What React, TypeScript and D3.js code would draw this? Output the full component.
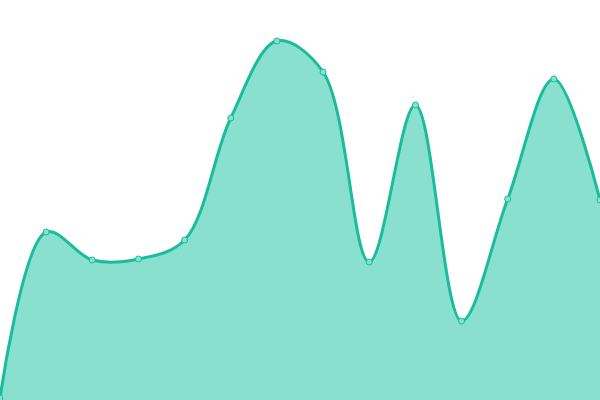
import React, { useEffect, useRef } from "react";
import * as d3 from "d3";

const labels = ["1", "2", "3", "4", "5", "6", "7", "8", "9", "10", "11", "12", "13", "14"];
const values = [2, 168, 140, 141, 160, 282, 359, 328, 138, 295, 79, 201, 321, 200];

const App: React.FC = () => {
  const svgRef = useRef<SVGSVGElement | null>(null);

  useEffect(() => {
    const width = 600;
    const height = 400;

    const x = d3
      .scalePoint()
      .domain(labels)
      .range([0, width]);

    const y = d3.scaleLinear().domain([0, 400]).range([height, 0]);

    const svg = d3.select(svgRef.current);
    svg.selectAll("*").remove();

    const area = d3
      .area<number>()
      .x((_, i) => x(labels[i]) as number)
      .y0(height)
      .y1((d) => y(d))
      .curve(d3.curveCatmullRom);

    const line = d3
      .line<number>()
      .x((_, i) => x(labels[i]) as number)
      .y((d) => y(d))
      .curve(d3.curveCatmullRom);

    svg.append("path").datum(values).attr("d", area).attr("fill", "#89e0ce");

    svg
      .append("path")
      .datum(values)
      .attr("d", line)
      .attr("fill", "none")
      .attr("stroke", "#1abc9c")
      .attr("stroke-width", 3);

    svg
      .selectAll("circle")
      .data(values)
      .enter()
      .append("circle")
      .attr("cx", (_, i) => x(labels[i]) as number)
      .attr("cy", (d) => y(d))
      .attr("r", 3)
      .attr("fill", "#89e0ce")
      .attr("stroke", "#1abc9c")
      .attr("stroke-width", 1);
  }, []);

  return (
    <div style={{ position: "absolute", left: 0, top: 0, width: 600, height: 400, overflow: "hidden" }}>
      <svg ref={svgRef} width={600} height={400} style={{ display: "block" }}></svg>
    </div>
  );
};

export default App;
